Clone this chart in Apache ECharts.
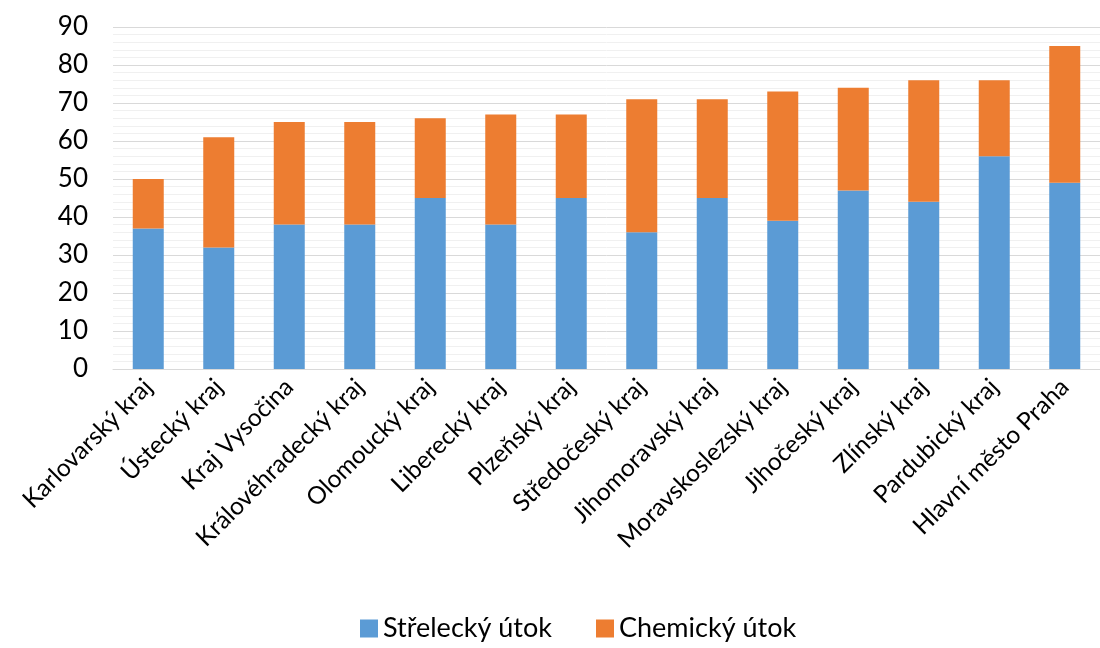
<!DOCTYPE html>
<html><head><meta charset="utf-8">
<script src="https://cdn.jsdelivr.net/npm/echarts@6/dist/echarts.min.js"></script>
<style>html,body{margin:0;padding:0;background:#fff}#c{width:1100px;height:648px}</style>
</head><body><div id="c"></div>
<script>
const categories = ["Karlovarský kraj","Ústecký kraj","Kraj Vysočina","Královéhradecký kraj","Olomoucký kraj","Liberecký kraj","Plzeňský kraj","Středočeský kraj","Jihomoravský kraj","Moravskoslezský kraj","Jihočeský kraj","Zlínský kraj","Pardubický kraj","Hlavní město Praha"];
const strelecky = [37,32,38,38,45,38,45,36,45,39,47,44,56,49];
const chemicky  = [13,29,27,27,21,29,22,35,26,34,27,32,20,36];
const seriesNames = ["Střelecký útok","Chemický útok"];
const yTicks = {min:0, max:90, interval:10};

const font = "Lato, 'Open Sans', sans-serif";
const chart = echarts.init(document.getElementById('c'));
chart.setOption({
  animation:false,
  grid:{left:113, top:27, width:1000, height:342, containLabel:false},
  legend:{
    bottom:1, left:355, itemWidth:18, itemHeight:18, itemGap:44,
    icon:'rect',
    textStyle:{fontFamily:font, fontSize:27, color:'#000'},
    data:seriesNames
  },
  xAxis:{
    type:'category', data:categories,
    axisLine:{lineStyle:{color:'#d9d9d9'}},
    axisTick:{show:false},
    axisLabel:{rotate:45, interval:0, fontFamily:font, fontSize:24.5, color:'#000', margin:14}
  },
  yAxis:{
    type:'value', min:yTicks.min, max:yTicks.max, interval:yTicks.interval,
    axisLine:{show:false}, axisTick:{show:false},
    axisLabel:{fontFamily:font, fontSize:26, color:'#000', margin:25},
    splitLine:{lineStyle:{color:'#d9d9d9', width:1}},
    minorTick:{show:false, splitNumber:5},
    minorSplitLine:{show:true, lineStyle:{color:'#f0f0f0', width:1}}
  },
  series:[
    {name:seriesNames[0], type:'bar', stack:'a', data:strelecky, barWidth:31, itemStyle:{color:'#5B9BD5'}},
    {name:seriesNames[1], type:'bar', stack:'a', data:chemicky, barWidth:31, itemStyle:{color:'#ED7D31'}}
  ]
});
</script></body></html>
